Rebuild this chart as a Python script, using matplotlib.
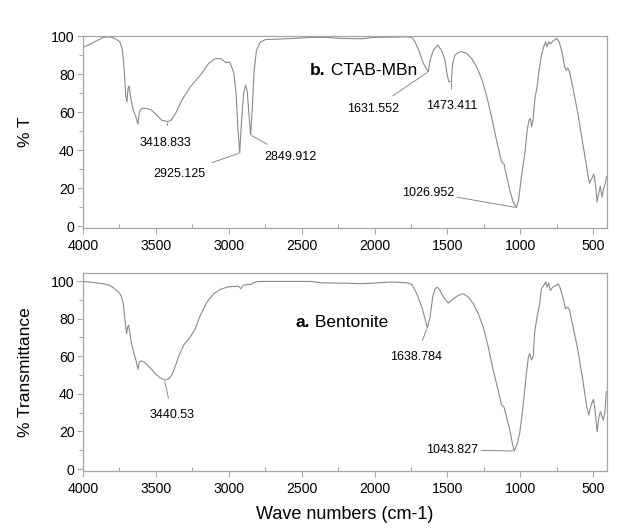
import matplotlib
matplotlib.use("Agg")
import matplotlib.pyplot as plt
from matplotlib.ticker import MultipleLocator

plt.rcParams['font.family'] = ['Liberation Sans', 'DejaVu Sans']

# ---- Data: top spectrum (b. CTAB-MBn) ----
wn_b = [4000, 3931, 3862, 3816, 3782, 3747, 3729, 3717, 3706, 3699, 3690, 3683, 3674,
        3655, 3637, 3623, 3614, 3598, 3563, 3529, 3494, 3460, 3418, 3395, 3365, 3322,
        3264, 3195, 3138, 3092, 3057, 3028, 3011, 2998, 2984, 2965, 2950, 2938, 2925,
        2912, 2898, 2885, 2873, 2862, 2850, 2838, 2826, 2810, 2782, 2747, 2667, 2552,
        2437, 2322, 2235, 2092, 2007, 1779, 1745, 1722, 1688, 1665, 1631, 1619, 1596,
        1567, 1540, 1517, 1501, 1490, 1473, 1464, 1448, 1425, 1403, 1368, 1334, 1300,
        1266, 1232, 1197, 1163, 1129, 1111, 1095, 1072, 1049, 1027, 1012, 992, 969,
        953, 940, 931, 922, 912, 901, 885, 871, 855, 839, 826, 817, 805, 794, 776, 765,
        753, 742, 730, 712, 696, 685, 674, 662, 640, 605, 571, 544, 526, 510, 496, 485,
        473, 462, 451, 439, 428, 417, 408]
t_b = [94, 96.5, 99.3, 99.6, 98.8, 97, 92.6, 82, 68, 65.4, 73, 73.7, 68,
       61, 57.5, 53.7, 60, 62, 62, 61, 58.4, 55.8, 55, 55.8, 59.3, 66.3,
       73.3, 79.5, 85.6, 88.2, 88.2, 86.5, 86, 86.5, 84.7, 80.4, 69.8, 52.3, 38.5,
       55.8, 69.8, 74.2, 70.7, 59.3, 48, 62.8, 82, 92.6, 97, 98.2, 98.4, 98.8,
       99.3, 99.3, 98.8, 98.6, 99.3, 99.6, 99.3, 97, 90.9, 85.6, 81.2, 87.4, 92.6,
       95.3, 92.6, 87.4, 79.5, 76, 76, 85.6, 90, 91.4, 91.8, 90.9, 88.2, 83.9,
       77.7, 68.9, 57.5, 45.2, 33.9, 32.6, 26.8, 18.9, 12.8, 9.8, 13.7, 26, 38.2,
       50.5, 55.8, 56.7, 52.3, 55.8, 66.3, 73.3, 82, 90, 94.4, 97, 94.4, 97, 95.8, 97.5, 97.9,
       98.8, 98.2, 96, 90.9, 83.9, 82, 83.2, 81.2, 73.3, 59.3, 43.5, 31.2, 22.5, 25, 27.4, 22.5,
       12.8, 17.2, 21, 15.4, 19.8, 22.5, 26]

# ---- Data: bottom spectrum (a. Bentonite) ----
wn_a = [4000, 3931, 3862, 3816, 3782, 3747, 3736, 3724, 3713, 3701, 3694, 3687, 3678,
        3667, 3651, 3637, 3623, 3614, 3598, 3575, 3540, 3506, 3471, 3440, 3414, 3391,
        3368, 3345, 3310, 3264, 3230, 3195, 3149, 3103, 3057, 3011, 2965, 2931, 2919,
        2901, 2873, 2850, 2816, 2782, 2667, 2437, 2368, 2235, 2092, 2007, 1893, 1779,
        1745, 1710, 1676, 1653, 1638, 1619, 1601, 1585, 1569, 1551, 1528, 1494, 1460,
        1425, 1391, 1357, 1323, 1289, 1254, 1220, 1186, 1152, 1129, 1113, 1095, 1072,
        1055, 1043, 1025, 1004, 981, 958, 944, 935, 924, 912, 901, 885, 867, 855, 839,
        826, 817, 805, 794, 776, 753, 742, 730, 708, 690, 674, 662, 640, 605, 571, 544,
        530, 514, 498, 487, 473, 462, 451, 439, 430, 419, 410]
t_a = [99.8, 99.3, 98.6, 97.7, 95.9, 93.3, 91.5, 88, 80, 72, 75.6, 76.5, 72,
       66.8, 61.5, 58, 53, 57, 57.6, 56.5, 54, 50.9, 48.6, 47.3, 47.9, 50,
       54.4, 59.7, 65.9, 70.3, 74.7, 81.8, 88.9, 93.3, 95.6, 96.8, 97.2, 97.2, 95.9,
       97.7, 98.2, 98.2, 99.5, 99.8, 99.8, 99.8, 99.1, 98.9, 98.6, 98.9, 99.5, 99.1,
       98.2, 93.3, 86.2, 80, 75.1, 80.9, 91.5, 95.9, 96.8, 95, 91.5, 88.3, 90.6,
       92.4, 93.3, 91.5, 88, 82.7, 75.6, 65, 52.7, 42, 34.1, 33.2, 27.9, 20.8,
       14, 9.6, 12.5, 19.1, 33.2, 50.9, 59.7, 61.5, 58, 59.7, 73, 80.9, 88, 95.9, 97.7,
       99.5, 96.8, 98.9, 95, 96.8, 97.7, 98.6, 97.2, 91.5, 85.3, 86.2, 84.5, 76.5, 63.3, 47.3, 33.2,
       28.8, 34.1, 37.1, 31.4, 20, 27, 30.6, 27.9, 26.1, 30.6, 41.2]

# ---- Peak annotations ----
peaks_b = [3418.833, 2925.125, 2849.912, 1631.552, 1473.411, 1026.952]
peaks_b_y = [55, 38.5, 48, 81.2, 76, 9.8]
peaks_a = [3440.53, 1638.784, 1043.827]
peaks_a_y = [47.3, 75.1, 9.6]

LINE = '#8a8a8a'
SPINE = '#a6a6a6'

fig = plt.figure(figsize=(6.42, 5.28), dpi=100)
ax_b = fig.add_axes([0.1293, 0.568, 0.8162, 0.3636])
ax_a = fig.add_axes([0.1293, 0.108, 0.8162, 0.375])

def style(ax, ylim):
    ax.set_xlim(4000, 405)
    ax.set_ylim(*ylim)
    ax.xaxis.set_major_locator(MultipleLocator(500))
    ax.xaxis.set_minor_locator(MultipleLocator(250))
    ax.yaxis.set_major_locator(MultipleLocator(20))
    ax.yaxis.set_minor_locator(MultipleLocator(10))
    for s in ax.spines.values():
        s.set_color(SPINE)
        s.set_linewidth(0.9)
    ax.tick_params(axis='x', which='major', direction='out', length=4, width=0.8,
                   color=SPINE, labelsize=10.2, pad=4)
    ax.tick_params(axis='x', which='minor', direction='in', length=3, width=0.8, color=SPINE)
    ax.tick_params(axis='y', which='major', direction='out', length=4, width=0.8,
                   color=SPINE, labelsize=10.2, pad=2)
    ax.tick_params(axis='y', which='minor', direction='out', length=3, width=0.8, color=SPINE)

style(ax_b, (-1, 100))
style(ax_a, (-1, 104.3))

ax_b.plot(wn_b, t_b, color=LINE, lw=0.8)
ax_a.plot(wn_a, t_a, color=LINE, lw=0.8)

def label(ax, px, py, tx, ty, txt):
    ax.annotate(f"{txt}", xy=(px, py), xytext=(tx, ty), fontsize=9, ha='center', va='center',
                arrowprops=dict(arrowstyle='-', color=LINE, lw=0.7, shrinkA=6, shrinkB=1))

label(ax_b, peaks_b[0], peaks_b_y[0], 3437, 44, "3418.833")
label(ax_b, peaks_b[1], peaks_b_y[1], 3341, 27.4, "2925.125")
label(ax_b, peaks_b[2], peaks_b_y[2], 2579, 36.3, "2849.912")
label(ax_b, peaks_b[3], peaks_b_y[3], 2010, 61.6, "1631.552")
label(ax_b, peaks_b[4], peaks_b_y[4], 1467, 63, "1473.411")
ax_b.annotate("1026.952", xy=(peaks_b[5], peaks_b_y[5]), xytext=(1632, 17.4), fontsize=9,
              ha='center', va='center',
              arrowprops=dict(arrowstyle='-', color=LINE, lw=0.7, shrinkA=0, shrinkB=1,
                              relpos=(1.0, 0.2)))

label(ax_a, peaks_a[0], peaks_a_y[0], 3389, 28.7, "3440.53")
label(ax_a, peaks_a[1], peaks_a_y[1], 1714, 59.6, "1638.784")
ax_a.annotate("1043.827", xy=(peaks_a[2], peaks_a_y[2]), xytext=(1467, 10), fontsize=9,
              ha='center', va='center',
              arrowprops=dict(arrowstyle='-', color=LINE, lw=0.7, shrinkA=0, shrinkB=1,
                              relpos=(1.0, 0.5)))

# Panel labels
tb = ax_b.text(2442, 82, "b.", fontsize=12.5, fontweight='bold', ha='left', va='center')
ax_b.annotate(" CTAB-MBn", xy=(1, 0.5), xycoords=tb, fontsize=12.5, ha='left', va='center')
ta = ax_a.text(2545, 78, "a.", fontsize=12.5, fontweight='bold', ha='left', va='center')
ax_a.annotate(" Bentonite", xy=(1, 0.5), xycoords=ta, fontsize=12.5, ha='left', va='center')

ax_b.set_ylabel("% T", fontsize=12.5)
ax_a.set_ylabel("% Transmittance", fontsize=12.5)
ax_b.yaxis.set_label_coords(-0.095, 0.5)
ax_a.yaxis.set_label_coords(-0.095, 0.5)
ax_a.set_xlabel("Wave numbers (cm-1)", fontsize=13, labelpad=7)

fig.savefig("out.png", dpi=100)
